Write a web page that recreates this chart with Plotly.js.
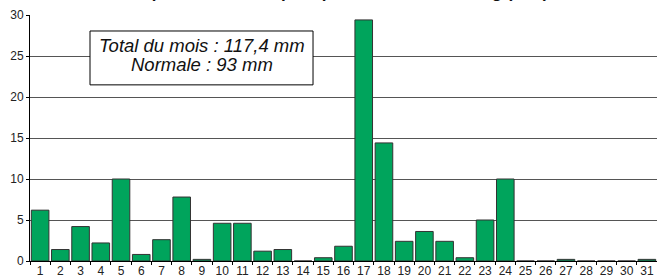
<!DOCTYPE html>
<html>
<head>
<meta charset="utf-8">
<script src="https://cdn.plot.ly/plotly-3.0.1.min.js"></script>
<style>html,body{margin:0;padding:0;background:#fff;}#chart{width:657px;height:277px;}</style>
</head>
<body>
<div id="chart"></div>
<script>
const days = ['1','2','3','4','5','6','7','8','9','10','11','12','13','14','15','16','17','18','19','20','21','22','23','24','25','26','27','28','29','30','31'];
const precip = [6.2,1.4,4.2,2.2,10.0,0.8,2.6,7.8,0.2,4.6,4.6,1.2,1.4,0,0.4,1.8,29.4,14.4,2.4,3.6,2.4,0.4,5.0,10.0,0,0,0.2,0,0,0,0.2];
const yTicks = [0,5,10,15,20,25,30];
const titleText = 'Hauteur quotidienne des précipitations à Strasbourg (mm)';
const noteLines = ['Total du mois : 117,4 mm', 'Normale : 93 mm'];

const trace = {
  type: 'bar', x: days, y: precip,
  marker: {color: '#00A45C', line: {color: '#333333', width: 1}},
  hoverinfo: 'skip'
};
const layout = {
  width: 657, height: 277,
  margin: {l: 30, r: 0, t: 15, b: 16, pad: 0},
  paper_bgcolor: '#fff', plot_bgcolor: '#fff',
  font: {family: 'Liberation Sans, Arial, sans-serif', size: 12, color: '#222'},
  showlegend: false,
  bargap: 0.13,
  xaxis: {
    type: 'category', tickson: 'boundaries', ticks: 'outside', ticklen: 3, tickcolor: '#000',
    tickangle: 0, ticklabelstandoff: -1,
    showline: true, linecolor: '#000', linewidth: 1, showgrid: false, zeroline: false,
    tickfont: {size: 12, color: '#222'}, fixedrange: true
  },
  yaxis: {
    range: [0, 30], tickvals: yTicks, ticks: 'outside', ticklen: 3, tickcolor: '#000',
    showline: true, linecolor: '#000', linewidth: 1, showgrid: true, gridcolor: '#555', gridwidth: 1,
    zeroline: false, tickfont: {size: 12, color: '#222'}, fixedrange: true
  },
  shapes: [
    {type: 'rect', xref: 'paper', yref: 'paper', x0: 0.0957, x1: 0.4514, y0: 0.716, y1: 0.935,
     fillcolor: '#fff', line: {color: '#000', width: 1}, layer: 'above'}
  ],
  annotations: [
    {xref: 'paper', yref: 'paper', x: 0.2736, y: 0.874, xanchor: 'center', yanchor: 'middle',
     text: '<i>' + noteLines[0] + '</i>', showarrow: false, font: {size: 18.5, color: '#111'}},
    {xref: 'paper', yref: 'paper', x: 0.2736, y: 0.797, xanchor: 'center', yanchor: 'middle',
     text: '<i>' + noteLines[1] + '</i>', showarrow: false, font: {size: 18.5, color: '#111'}},
    {xref: 'paper', yref: 'paper', x: 0.45, y: 1, yanchor: 'bottom', xanchor: 'center', yshift: 10.5,
     text: '<b>' + titleText + '</b>', showarrow: false, font: {size: 17, color: '#111'}}
  ]
};
Plotly.newPlot('chart', [trace], layout, {staticPlot: true, displayModeBar: false});
</script>
</body>
</html>
